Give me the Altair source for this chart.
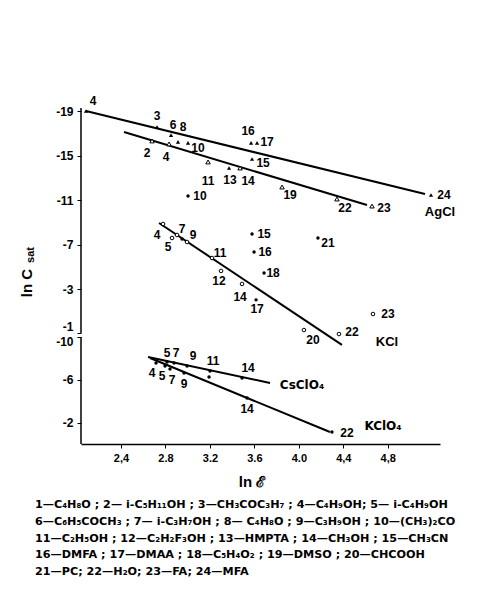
import altair as alt
import pandas as pd

# ---------------- data ----------------
# AgCl, filled triangles (upper line)
agcl_f_id = ["4", "3", "6", "8", "10", "13", "15", "16", "17", "24"]
agcl_f_x = [2.085, 2.724, 2.850, 2.913, 3.003, 3.372, 3.579, 3.570, 3.624, 5.189]
agcl_f_y = [-19.00, -17.56, -16.84, -16.22, -16.13, -13.88, -14.69, -16.13, -16.13, -11.45]

# AgCl, open triangles (lower line)
agcl_o_id = ["2", "4", "11", "14", "19", "22", "23"]
agcl_o_x = [2.679, 2.832, 3.183, 3.471, 3.849, 4.343, 4.658]
agcl_o_y = [-16.31, -16.04, -14.42, -13.88, -12.17, -11.09, -10.46]

# KCl, open circles
kcl_o_id = ["4", "5", "7", "9", "11", "12", "14", "20", "22", "23"]
kcl_o_x = [2.778, 2.859, 2.904, 2.994, 3.219, 3.300, 3.489, 4.046, 4.361, 4.667]
kcl_o_y = [-8.85, -7.59, -7.86, -7.23, -5.79, -4.63, -3.46, 0.68, 1.04, -0.76]

# filled dots in the upper panel
dot_id = ["10", "15", "16", "18", "17", "21", ""]
dot_x = [3.003, 3.579, 3.597, 3.687, 3.615, 4.172, 2.949]
dot_y = [-11.36, -7.95, -6.33, -4.45, -2.03, -7.59, -7.50]

# lower panel (ln C_sat of perchlorates)
csclo4_id = ["5", "7", "9", "11", "14"]
csclo4_x = [2.814, 2.877, 2.994, 3.201, 3.489]
csclo4_y = [-7.66, -7.57, -7.29, -6.82, -6.17]

kclo4_id = ["4", "5", "7", "9", "", "14", "22"]
kclo4_x = [2.715, 2.796, 2.841, 2.967, 3.192, 3.534, 4.298]
kclo4_y = [-7.57, -7.29, -7.01, -6.64, -6.26, -4.30, -1.12]

# fitted straight lines (end points)
line_name = ["AgCl_a", "AgCl_b", "KCl", "CsClO4", "KClO4"]
line_panel = ["upper", "upper", "upper", "lower", "lower"]
line_x0 = [2.085, 2.427, 2.742, 2.643, 2.661]
line_x1 = [5.135, 4.613, 4.388, 3.741, 4.280]
line_y0 = [-19.00, -17.11, -8.94, -8.13, -8.04]
line_y1 = [-11.54, -10.55, 2.02, -5.70, -1.12]

x_ticks = [2.4, 2.8, 3.2, 3.6, 4.0, 4.4, 4.8]
x_tick_labels = ["2,4", "2.8", "3.2", "3.6", "4.0", "4,4", "4,8"]
upper_ticks = [-19, -15, -11, -7, -3]
lower_ticks = [-10, -6, -2]

footnote = [
    "1—C₄H₈O ; 2— i-C₅H₁₁OH ; 3—CH₃COC₃H₇ ; 4—C₄H₉OH; 5— i-C₄H₉OH",
    "6—C₆H₅COCH₃ ; 7— i-C₃H₇OH ; 8— C₄H₈O ; 9—C₃H₉OH ; 10—(CH₃)₂CO",
    "11—C₂H₅OH ; 12—C₂H₂F₃OH ; 13—HMPTA ; 14—CH₃OH ; 15—CH₃CN",
    "16—DMFA ; 17—DMAA ; 18—C₅H₄O₂ ; 19—DMSO ; 20—CHCOOH",
    "21—PC; 22—H₂O; 23—FA; 24—MFA",
]

# ---------------- layout (label offsets in px) ----------------
agcl_f_off = [(7, -10), (0, -11), (2, -10), (5, -15), (10, 5), (1, 12), (11, 4), (-3, -12), (10, -1), (13, 0)]
agcl_o_off = [(-5, 12), (-3, 13), (0, 19), (8, 13), (8, 8), (8, 9), (12, 2)]
kcl_o_off = [(-6, 11), (-4, 9), (5, -6), (6, -7), (8, -5), (-2, 10), (-2, 13), (9, 10), (13, -2), (15, 0)]
dot_off = [(12, 0), (12, 0), (11, 0), (9, 0), (1, 9), (10, 5), (0, 0)]
csclo4_off = [(0, -9), (2, -10), (6, -10), (3, -10), (6, -10)]
kclo4_off = [(-4, 10), (-3, 10), (2, 11), (0, 11), (0, 0), (0, 11), (15, 1)]

W, H = 359, 336
X_DOM = [2.04, 5.27]
Y_TOP, Y_BOT = -19.27, 10.92          # combined vertical units (upper panel units)
UPPER_END = 0.95                       # bottom of the upper panel
LOWER_TOP = 1.305                      # where -10 of the lower panel sits
LOWER_K = 0.9616                       # lower-panel unit in upper-panel units
PXX = W / (X_DOM[1] - X_DOM[0])
PXY = H / (Y_BOT - Y_TOP)


def lower_map(v):
    return LOWER_TOP + (v + 10) * LOWER_K


def build(ids, xs, ys, offs, kind, lower=False):
    rows = []
    for i, x, y, (dx, dy) in zip(ids, xs, ys, offs):
        yy = lower_map(y) if lower else y
        rows.append({"id": i, "x": x, "Y": yy, "kind": kind,
                     "lx": x + dx / PXX, "ly": yy + dy / PXY})
    return rows


rows = []
rows += build(agcl_f_id, agcl_f_x, agcl_f_y, agcl_f_off, "tri_f")
rows += build(agcl_o_id, agcl_o_x, agcl_o_y, agcl_o_off, "tri_o")
rows += build(kcl_o_id, kcl_o_x, kcl_o_y, kcl_o_off, "circ_o")
rows += build(dot_id, dot_x, dot_y, dot_off, "dot")
rows += build(csclo4_id, csclo4_x, csclo4_y, csclo4_off, "dot", lower=True)
rows += build(kclo4_id, kclo4_x, kclo4_y, kclo4_off, "dot", lower=True)
pts = pd.DataFrame(rows)

lrows = []
for n, p, x0, x1, y0, y1 in zip(line_name, line_panel, line_x0, line_x1, line_y0, line_y1):
    f = lower_map if p == "lower" else (lambda v: v)
    lrows.append({"name": n, "x": x0, "Y": f(y0)})
    lrows.append({"name": n, "x": x1, "Y": f(y1)})
lines = pd.DataFrame(lrows)

FONT = "Liberation Sans"
FONT2 = "DejaVu Sans"
y_vals = upper_ticks + [UPPER_END] + [lower_map(v) for v in lower_ticks]
y_label_expr = (
    f"datum.value < 0 ? '-' + format(-datum.value, 'd') : "
    f"(datum.value < 1.1 ? '-1' : '-' + format(10 - round((datum.value - {LOWER_TOP}) / {LOWER_K}), 'd'))"
)
x_label_expr = "[" + ",".join(f"'{s}'" for s in x_tick_labels) + "][round((datum.value - 2.4) / 0.4)]"

xenc = alt.X("x:Q", scale=alt.Scale(domain=X_DOM, nice=False, zero=False),
             axis=alt.Axis(values=x_ticks, labelExpr=x_label_expr, title=None, grid=False,
                           tickSize=4, tickColor="black", domainColor="black", domainWidth=1.5,
                           labelFont=FONT, labelFontSize=11, labelFontWeight="bold",
                           labelColor="black", labelPadding=4, labelOverlap=False))
yenc = alt.Y("Y:Q", scale=alt.Scale(domain=[Y_TOP, Y_BOT], reverse=True, nice=False, zero=False),
             axis=alt.Axis(values=y_vals, labelExpr=y_label_expr, title=None, grid=False,
                           domain=False, tickSize=4, tickColor="black",
                           labelFont=FONT, labelFontSize=12, labelFontWeight="bold",
                           labelColor="black", labelPadding=4, labelOverlap=False,
                           labelBound=False, labelFlush=False,
                           labelBaseline={"condition": [
                               {"test": "datum.value > 0 && datum.value < 1.1", "value": "bottom"},
                               {"test": "datum.value > 1.1 && datum.value < 1.5", "value": "top"}],
                               "value": "middle"}))

line_layer = alt.Chart(lines).mark_line(color="black", strokeWidth=2).encode(
    x=xenc, y=yenc, detail="name:N")

tri_f = alt.Chart(pts).transform_filter("datum.kind == 'tri_f'").mark_point(
    shape="triangle-up", filled=True, color="black", size=18, opacity=1).encode(
    x="x:Q", y="Y:Q")
tri_o = alt.Chart(pts).transform_filter("datum.kind == 'tri_o'").mark_point(
    shape="triangle-up", fill="white", fillOpacity=1, stroke="black", strokeWidth=1,
    size=20, opacity=1).encode(x="x:Q", y="Y:Q")
circ_o = alt.Chart(pts).transform_filter("datum.kind == 'circ_o'").mark_point(
    shape="circle", fill="white", fillOpacity=1, stroke="black", strokeWidth=1,
    size=13, opacity=1).encode(x="x:Q", y="Y:Q")
dots = alt.Chart(pts).transform_filter("datum.kind == 'dot'").mark_circle(
    color="black", size=12, opacity=1).encode(x="x:Q", y="Y:Q")

num_labels = alt.Chart(pts).transform_filter("datum.id != ''").mark_text(
    font=FONT, fontSize=12, fontWeight="bold", color="black", align="center",
    baseline="middle").encode(x="lx:Q", y="ly:Q", text="id:N")

axis_df = pd.DataFrame({"a": [0]})
axis_up = alt.Chart(axis_df).mark_rule(color="black", strokeWidth=1.5).encode(
    x=alt.value(0), y=alt.datum(Y_TOP), y2=alt.datum(UPPER_END))
axis_lo = alt.Chart(axis_df).mark_rule(color="black", strokeWidth=1.5).encode(
    x=alt.value(0), y=alt.datum(LOWER_TOP), y2=alt.datum(Y_BOT))


def txt(s, x, y, size=13, angle=0, align="center", baseline="middle", font=FONT, **kw):
    return alt.Chart(pd.DataFrame({"t": [s]})).mark_text(
        font=font, fontSize=size, fontWeight="bold", color="black", align=align,
        baseline=baseline, angle=angle, **kw).encode(
        x=alt.value(x), y=alt.value(y), text="t:N")


names = (txt("AgCl", 359, 104) + txt("KCl", 306, 234) +
         txt("CsClO₄", 221, 277, font=FONT2, size=12) + txt("KClO₄", 302, 318, font=FONT2, size=12))
titles = (txt("ln C", -54, 175, size=15, angle=270) +
          txt("sat", -50, 147, size=11, angle=270) +
          txt("ln ℰ", 171, 374, size=15))
foot = alt.Chart(pd.DataFrame({"t": ["\n".join(footnote)]})).mark_text(
    font=FONT2, fontSize=11.2, fontWeight="bold", color="black", align="left",
    baseline="middle", lineBreak="\n", lineHeight=16.75).encode(
    x=alt.value(-46), y=alt.value(397), text="t:N")

chart = alt.layer(line_layer, axis_up, axis_lo, tri_f, tri_o, circ_o, dots,
                  num_labels, names, titles, foot).properties(
    width=W, height=H,
    autosize=alt.AutoSizeParams(type="none"),
    padding={"left": 73, "top": 100, "right": 34, "bottom": 140},
    background="white",
).configure_view(stroke=None)

chart.save("out.html", embed_options={"renderer": "svg", "actions": False})
